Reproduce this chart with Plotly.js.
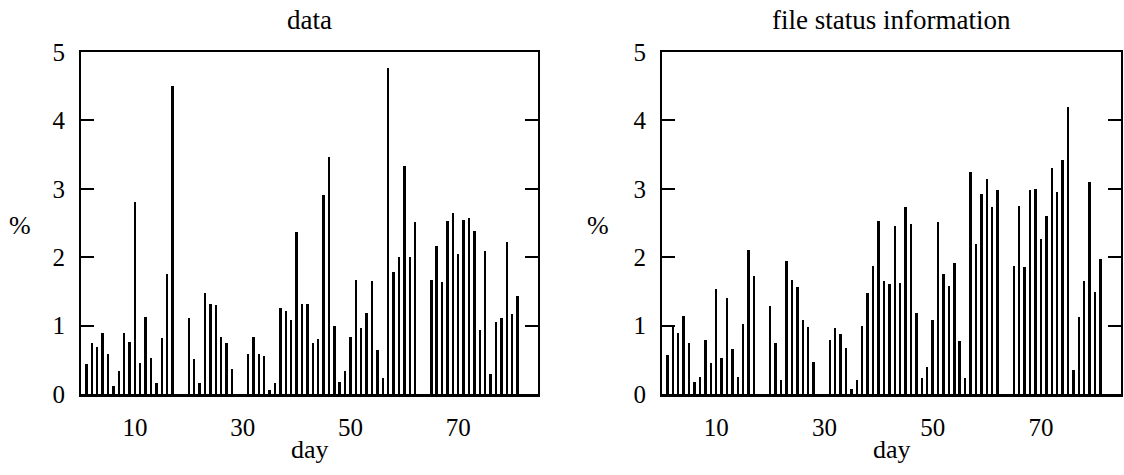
<!DOCTYPE html>
<html>
<head>
<meta charset="utf-8">
<script src="https://cdn.plot.ly/plotly-3.0.1.min.js"></script>
<style>html,body{margin:0;padding:0;background:#fff;}#chart{width:1124px;height:475px;}</style>
</head>
<body>
<div id="chart"></div>
<script>
// days with observations (gaps are days without data)
const days = [1,2,3,4,5,6,7,8,9,10,11,12,13,14,15,16,17,
  20,21,22,23,24,25,26,27,28,
  31,32,33,34,35,36,37,38,39,40,41,42,43,44,45,46,47,48,49,50,51,52,53,54,55,56,57,58,59,60,61,62,
  65,66,67,68,69,70,71,72,73,74,75,76,77,78,79,80,81];

const dataPct = [0.44,0.75,0.69,0.89,0.59,0.12,0.34,0.89,0.76,2.81,0.45,1.13,0.52,0.16,0.82,1.75,4.50,
  1.11,0.51,0.16,1.48,1.32,1.30,0.83,0.75,0.37,
  0.59,0.83,0.58,0.55,0.06,0.16,1.26,1.21,1.08,2.37,1.31,1.31,0.74,0.80,2.91,3.47,1.00,0.17,0.33,0.83,1.67,0.97,1.18,1.65,0.65,0.24,4.77,1.79,2.00,3.33,2.00,2.51,
  1.66,2.16,1.64,2.53,2.64,2.04,2.54,2.58,2.39,0.93,2.09,0.29,1.05,1.11,2.22,1.17,1.43];

const fileStatusPct = [0.57,1.01,0.89,1.14,0.74,0.17,0.25,0.79,0.46,1.53,0.52,1.41,0.66,0.25,1.03,2.10,1.73,
  1.29,0.75,0.20,1.94,1.67,1.57,1.08,0.98,0.47,
  0.79,0.97,0.87,0.67,0.07,0.21,0.99,1.47,1.87,2.53,1.65,1.61,2.46,1.62,2.74,2.48,1.19,0.23,0.39,1.08,2.51,1.75,1.58,1.91,0.77,0.24,3.24,2.19,2.92,3.14,2.74,2.98,
  1.87,2.75,1.85,2.98,2.99,2.27,2.60,3.30,2.96,3.42,4.20,0.35,1.13,1.65,3.10,1.49,1.97];

const xTickVals = [10,30,50,70];
const yTickVals = [0,1,2,3,4,5];
const titles = ["data", "file status information"];
const xLabel = "day";
const yLabel = "%";

const FONT = '"Liberation Serif", "DejaVu Serif", serif';

const traces = [
  {type:'bar', x:days, y:dataPct, xaxis:'x', yaxis:'y', width:0.45,
   marker:{color:'#000', line:{width:0}}, hoverinfo:'x+y'},
  {type:'bar', x:days, y:fileStatusPct, xaxis:'x2', yaxis:'y2', width:0.45,
   marker:{color:'#000', line:{width:0}}, hoverinfo:'x+y'}
];

const dom1 = [81/1124, 538/1124];
const dom2 = [662/1124, 1121/1124];
const ydom = [(475-394)/475, (475-52)/475];

function xAxis(dom, anchor){
  return {domain:dom, anchor:anchor, range:[0,84.8], tickvals:xTickVals,
    ticks:'', showgrid:false, zeroline:false, showline:true, linecolor:'#000', linewidth:2.5,
    mirror:true, ticklabelstandoff:9,
    tickfont:{family:FONT, size:25, color:'#000'}};
}
function yAxis(anchor){
  return {domain:ydom, anchor:anchor, range:[0,5], tickvals:yTickVals,
    ticks:'inside', ticklen:13, tickwidth:2, tickcolor:'#000',
    showgrid:false, zeroline:false, showline:true, linecolor:'#000', linewidth:2,
    mirror:'ticks', ticklabelstandoff:9,
    tickfont:{family:FONT, size:25, color:'#000'}};
}

const ann = [];
[[dom1,0.0178],[dom2,598/1124]].forEach((d,i)=>{
  const cx = (d[0][0]+d[0][1])/2;
  ann.push({text:titles[i], x:cx, y:(475-20)/475, xref:'paper', yref:'paper',
    showarrow:false, xanchor:'center', yanchor:'middle', font:{family:FONT, size:27, color:'#000'}});
  ann.push({text:xLabel, x:cx, y:(475-449)/475, xref:'paper', yref:'paper',
    showarrow:false, xanchor:'center', yanchor:'middle', font:{family:FONT, size:26, color:'#000'}});
  ann.push({text:yLabel, x:d[1], y:(475-225)/475, xref:'paper', yref:'paper',
    showarrow:false, xanchor:'center', yanchor:'middle', font:{family:FONT, size:26, color:'#000'}});
});

const layout = {
  width:1124, height:475, margin:{l:0,r:0,t:0,b:0},
  paper_bgcolor:'#fff', plot_bgcolor:'#fff', showlegend:false, bargap:0,
  xaxis:xAxis(dom1,'y'), yaxis:yAxis('x'),
  xaxis2:xAxis(dom2,'y2'), yaxis2:yAxis('x2'),
  annotations:ann
};

Plotly.newPlot('chart', traces, layout, {displayModeBar:false, staticPlot:true});
</script>
</body>
</html>
